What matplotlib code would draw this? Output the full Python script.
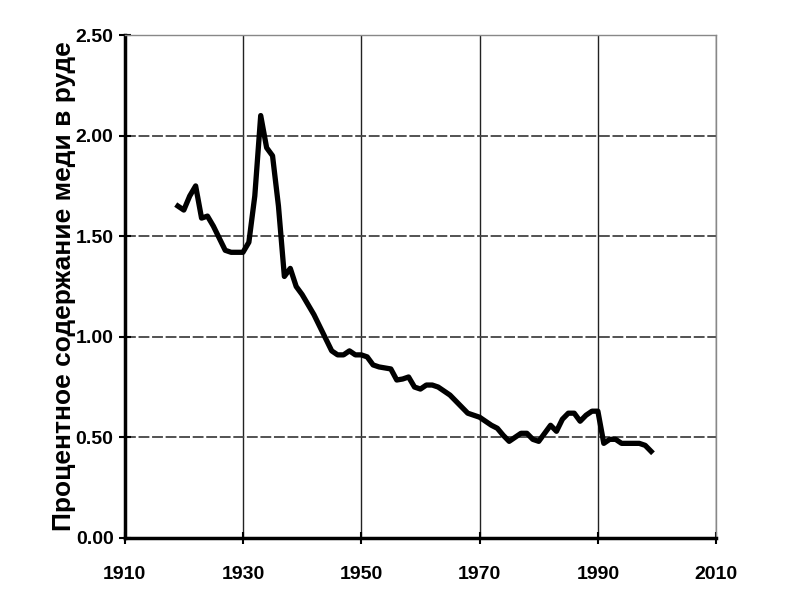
import matplotlib
matplotlib.use("Agg")
import matplotlib.pyplot as plt
from matplotlib import font_manager

years = list(range(1919, 2000))
grade = [1.65, 1.63, 1.70, 1.75, 1.59, 1.60, 1.55, 1.49, 1.43, 1.42,
         1.42, 1.42, 1.47, 1.70, 2.10, 1.94, 1.90, 1.65, 1.30, 1.34,
         1.25, 1.21, 1.16, 1.11, 1.05, 0.99, 0.93, 0.91, 0.91, 0.93,
         0.91, 0.91, 0.90, 0.86, 0.85, 0.845, 0.84, 0.785, 0.79, 0.80,
         0.75, 0.74, 0.76, 0.76, 0.75, 0.73, 0.71, 0.68, 0.65, 0.62,
         0.61, 0.60, 0.58, 0.56, 0.545, 0.51, 0.48, 0.50, 0.52, 0.52,
         0.49, 0.48, 0.52, 0.56, 0.53, 0.59, 0.62, 0.62, 0.58, 0.61,
         0.63, 0.63, 0.47, 0.49, 0.49, 0.47, 0.47, 0.47, 0.47, 0.46,
         0.43]
xticks = [1910, 1930, 1950, 1970, 1990, 2010]
yticks = [0.0, 0.5, 1.0, 1.5, 2.0, 2.5]
ylabel = "Процентное содержание меди в руде"

names = {f.name for f in font_manager.fontManager.ttflist}
fam = ["Liberation Sans Narrow"] if "Liberation Sans Narrow" in names else []
fam += ["Liberation Sans", "DejaVu Sans"]
plt.rcParams["font.family"] = fam

fig = plt.figure(figsize=(7.94, 5.95), dpi=100)
ax = fig.add_axes([0.157, 0.096, 0.745, 0.845])

ax.plot(years, grade, color="black", lw=3.8, solid_joinstyle="round")

ax.set_xlim(1910, 2010)
ax.set_ylim(0, 2.5)
ax.set_xticks(xticks)
ax.set_yticks(yticks)
ax.set_xticklabels([str(t) for t in xticks], fontsize=14, fontweight="bold")
ax.set_yticklabels([f"{t:.2f}" for t in yticks], fontsize=14, fontweight="bold")

ax.grid(axis="x", color="#222222", lw=1.0)
ax.grid(axis="y", color="#444444", lw=1.3, linestyle=(0, (6, 1.5)))

for s in ["left", "bottom"]:
    ax.spines[s].set_linewidth(2.5)
    ax.spines[s].set_color("black")
for s in ["top", "right"]:
    ax.spines[s].set_linewidth(1.0)
    ax.spines[s].set_color("#888888")

ax.tick_params(axis="both", direction="inout", length=8, width=1.5, color="black")
ax.tick_params(axis="x", pad=16)
ax.tick_params(axis="y", pad=4)

ax.set_ylabel(ylabel, fontsize=19, fontweight="bold", labelpad=0)

fig.savefig("out.png", dpi=100)
